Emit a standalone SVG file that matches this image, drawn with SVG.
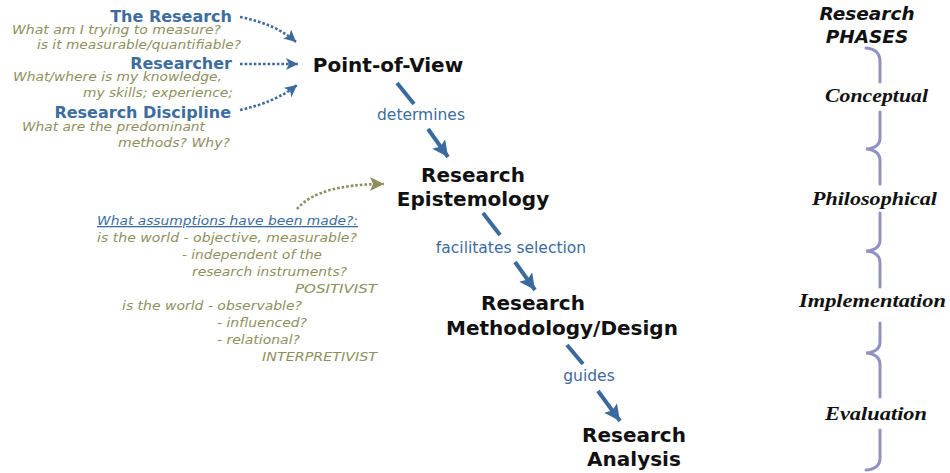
<svg xmlns="http://www.w3.org/2000/svg" width="950" height="473" viewBox="0 0 950 473">
<style>
.src{font-family:"DejaVu Sans",Verdana,sans-serif;font-weight:bold;font-size:16px;fill:#3d6c9e}
.q{font-family:"DejaVu Sans",Verdana,sans-serif;font-style:italic;font-size:12.5px;fill:#8f8f5e}
.a{font-size:13px}
.node{font-family:"DejaVu Sans",Verdana,sans-serif;font-weight:bold;font-size:20px;fill:#111;text-anchor:middle}
.lbl{font-family:"DejaVu Sans",Verdana,sans-serif;font-size:15.5px;fill:#3d6c9e;text-anchor:middle}
.ph{font-family:"Liberation Serif","Times New Roman",serif;font-weight:bold;font-style:italic;font-size:19px;fill:#111}
.hdr{font-family:"DejaVu Sans",Verdana,sans-serif;font-weight:bold;font-style:italic;font-size:18.5px;fill:#111;text-anchor:middle}
.solid{stroke:#3a6a9e;stroke-width:4;fill:none}
.dotb{stroke:#3a6a9e;stroke-width:2.6;fill:none;stroke-dasharray:2.6 2}
.doto{stroke:#8f8f5e;stroke-width:2.6;fill:none;stroke-dasharray:2.6 2}
.brace{stroke:#9292c2;stroke-width:3;fill:none;stroke-linecap:round}
</style>
<defs>
<marker id="ah" markerUnits="userSpaceOnUse" markerWidth="18" markerHeight="18" refX="16" refY="8" orient="auto">
<path d="M0,0 L16,8 L0,16 L3,8 z" fill="#3a6a9e"/>
</marker>
<marker id="dh" markerUnits="userSpaceOnUse" markerWidth="14" markerHeight="14" refX="12" refY="6" orient="auto">
<path d="M0,0 L12,6 L0,12 L3,6 z" fill="#3a6a9e"/>
</marker>
<marker id="oh" markerUnits="userSpaceOnUse" markerWidth="16" markerHeight="16" refX="14" refY="7" orient="auto">
<path d="M0,0 L14,7 L0,14 L3,7 z" fill="#8f8f5e"/>
</marker>
</defs>

<g id="connectors">
<path class="dotb" d="M240,17 Q276,24 296,42" marker-end="url(#dh)"/>
<path class="dotb" d="M240,64 L298,64" marker-end="url(#dh)"/>
<path class="dotb" d="M240,110 Q276,102 297,85" marker-end="url(#dh)"/>
<path class="doto" d="M297,209 Q318,184 384,184" marker-end="url(#oh)"/>
<line class="solid" x1="397" y1="83" x2="414" y2="104"/>
<line class="solid" x1="428" y1="129" x2="448" y2="157" marker-end="url(#ah)"/>
<line class="solid" x1="483" y1="213" x2="500" y2="235"/>
<line class="solid" x1="515" y1="262" x2="535" y2="290" marker-end="url(#ah)"/>
<line class="solid" x1="567" y1="345" x2="583" y2="364"/>
<line class="solid" x1="598" y1="391" x2="620" y2="421" marker-end="url(#ah)"/>
<text class="lbl" x="421" y="120">determines</text>
<text class="lbl" x="511" y="253">facilitates selection</text>
<text class="lbl" x="589" y="381">guides</text>
</g>

<g id="the-research">
<text class="src" x="232" y="22" text-anchor="end">The Research</text>
<text class="q" x="12" y="34" textLength="209" lengthAdjust="spacingAndGlyphs">What am I trying to measure?</text>
<text class="q" x="37" y="49" textLength="204" lengthAdjust="spacingAndGlyphs">is it measurable/quantifiable?</text>
</g>
<g id="researcher">
<text class="src" x="232" y="69" text-anchor="end">Researcher</text>
<text class="q" x="13" y="81" textLength="209" lengthAdjust="spacingAndGlyphs">What/where is my knowledge,</text>
<text class="q" x="83" y="97" textLength="150" lengthAdjust="spacingAndGlyphs">my skills; experience;</text>
</g>
<g id="research-discipline">
<text class="src" x="231" y="118" text-anchor="end">Research Discipline</text>
<text class="q" x="22" y="131" textLength="183" lengthAdjust="spacingAndGlyphs">What are the predominant</text>
<text class="q" x="118" y="147" textLength="112" lengthAdjust="spacingAndGlyphs">methods? Why?</text>
</g>

<g id="assumptions">
<text class="q a" x="97" y="225" textLength="261" lengthAdjust="spacingAndGlyphs" style="fill:#3d6c9e;text-decoration:underline">What assumptions have been made?:</text>
<text class="q a" x="97" y="242" textLength="260" lengthAdjust="spacingAndGlyphs">is the world - objective, measurable?</text>
<text class="q a" x="182" y="259" textLength="140" lengthAdjust="spacingAndGlyphs">- independent of the</text>
<text class="q a" x="192" y="276" textLength="155" lengthAdjust="spacingAndGlyphs">research instruments?</text>
<text class="q a" x="295" y="293" textLength="82" lengthAdjust="spacingAndGlyphs">POSITIVIST</text>
<text class="q a" x="122" y="310" textLength="180" lengthAdjust="spacingAndGlyphs">is the world - observable?</text>
<text class="q a" x="217" y="327" textLength="90" lengthAdjust="spacingAndGlyphs">- influenced?</text>
<text class="q a" x="217" y="344" textLength="83" lengthAdjust="spacingAndGlyphs">- relational?</text>
<text class="q a" x="262" y="361" textLength="115" lengthAdjust="spacingAndGlyphs">INTERPRETIVIST</text>
</g>

<g id="point-of-view"><text class="node" x="388" y="72">Point-of-View</text></g>
<g id="research-epistemology">
<text class="node" x="473" y="182">Research</text>
<text class="node" x="473" y="206">Epistemology</text>
</g>
<g id="research-methodology">
<text class="node" x="533" y="310">Research</text>
<text class="node" x="562" y="335">Methodology/Design</text>
</g>
<g id="research-analysis">
<text class="node" x="634" y="442">Research</text>
<text class="node" x="634" y="466">Analysis</text>
</g>

<g id="phases">
<text class="hdr" x="867" y="20">Research</text>
<text class="hdr" x="867" y="43">PHASES</text>
<path class="brace" d="M866,48 Q880,49 880,62 L880,82"/>
<path class="brace" d="M880,112 L880,138 Q880,148 866,149 Q880,150 880,161 L880,184"/>
<path class="brace" d="M880,213 L880,240 Q880,250 866,251 Q880,252 880,263 L880,287"/>
<path class="brace" d="M880,323 L880,342 Q880,352 866,353 Q880,354 880,365 L880,397"/>
<path class="brace" d="M880,430 L880,458 Q880,469 866,470"/>
<text class="ph" x="825" y="102" textLength="103" lengthAdjust="spacingAndGlyphs">Conceptual</text>
<text class="ph" x="812" y="205" textLength="125" lengthAdjust="spacingAndGlyphs">Philosophical</text>
<text class="ph" x="799" y="307" textLength="147" lengthAdjust="spacingAndGlyphs">Implementation</text>
<text class="ph" x="825" y="420" textLength="102" lengthAdjust="spacingAndGlyphs">Evaluation</text>
</g>
</svg>
